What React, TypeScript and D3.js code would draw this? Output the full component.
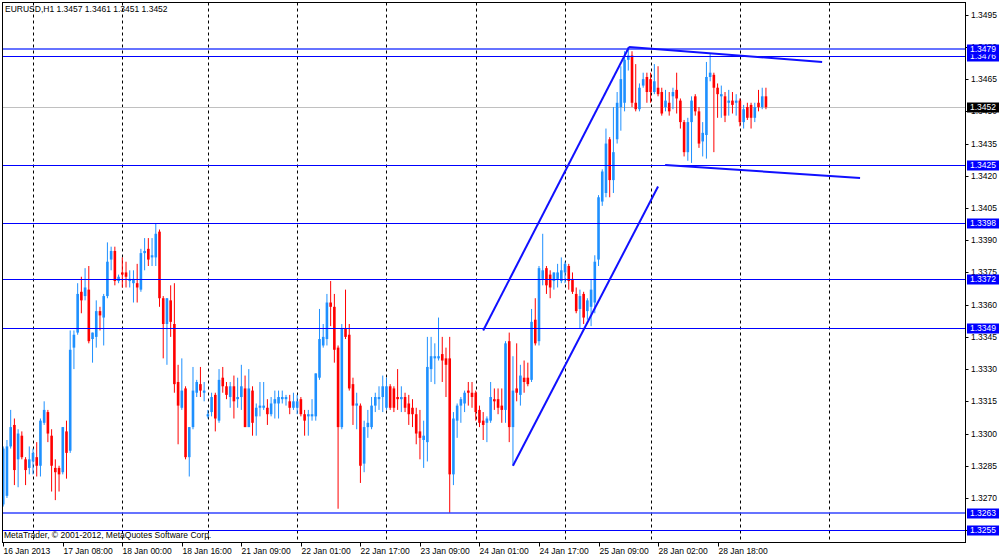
import * as d3 from 'd3';

const symbol = 'EURUSD,H1';
const lastQuote = ['1.3457', '1.3461', '1.3451', '1.3452'];
const copyright = 'MetaTrader, © 2001-2012, MetaQuotes Software Corp.';

// H1 bars [open, high, low, close], first bar 16 Jan 2013 16:00
const bars: [number, number, number, number][] = [
  [1.3267, 1.3294, 1.3266, 1.3293], [1.3271, 1.3297, 1.327, 1.3294], [1.3294, 1.3311, 1.3293, 1.3303],
  [1.3304, 1.3307, 1.3276, 1.3283], [1.3288, 1.3302, 1.3275, 1.33], [1.3299, 1.3301, 1.3288, 1.3289],
  [1.3288, 1.3289, 1.3276, 1.3283], [1.3284, 1.3294, 1.3281, 1.3288], [1.3287, 1.3293, 1.3281, 1.3291],
  [1.3289, 1.3296, 1.328, 1.3285], [1.3285, 1.3307, 1.328, 1.3306], [1.3305, 1.3315, 1.3304, 1.3311],
  [1.331, 1.3311, 1.3296, 1.33], [1.3299, 1.3302, 1.3273, 1.3285], [1.3284, 1.3288, 1.3269, 1.3282],
  [1.3284, 1.3285, 1.3273, 1.3281], [1.3282, 1.3303, 1.3281, 1.3303], [1.3301, 1.3306, 1.3279, 1.3291],
  [1.3292, 1.3348, 1.3291, 1.3339], [1.334, 1.3348, 1.333, 1.3346], [1.3347, 1.337, 1.3346, 1.3365],
  [1.3366, 1.3373, 1.3356, 1.3362], [1.3364, 1.3377, 1.3362, 1.3368], [1.3367, 1.3378, 1.3342, 1.3343],
  [1.3344, 1.3347, 1.3333, 1.3347], [1.3345, 1.3362, 1.334, 1.3357], [1.3357, 1.3359, 1.3348, 1.3355],
  [1.3354, 1.3365, 1.3341, 1.3364], [1.3364, 1.3389, 1.3363, 1.338], [1.3381, 1.3387, 1.3376, 1.3385],
  [1.3385, 1.3387, 1.3369, 1.3371], [1.3371, 1.3374, 1.337, 1.3373], [1.3375, 1.3382, 1.3368, 1.3374],
  [1.3375, 1.338, 1.3368, 1.3373], [1.3371, 1.3376, 1.3368, 1.3372], [1.337, 1.3376, 1.3361, 1.3372],
  [1.337, 1.3379, 1.3361, 1.3368], [1.3367, 1.3386, 1.3366, 1.3384], [1.3384, 1.3391, 1.3376, 1.3385],
  [1.3386, 1.3391, 1.3378, 1.3381], [1.3382, 1.3391, 1.3378, 1.3383], [1.3382, 1.3398, 1.3378, 1.3393],
  [1.3394, 1.3395, 1.3359, 1.3363], [1.3363, 1.3364, 1.3335, 1.3351], [1.3351, 1.3363, 1.3332, 1.3363],
  [1.3362, 1.3369, 1.3345, 1.3352], [1.3351, 1.337, 1.3319, 1.3323], [1.3324, 1.3332, 1.3295, 1.3313],
  [1.3312, 1.3335, 1.3311, 1.332], [1.3321, 1.3322, 1.3288, 1.3289], [1.3289, 1.3303, 1.328, 1.3303],
  [1.3303, 1.3331, 1.3302, 1.332], [1.3319, 1.3325, 1.3317, 1.3324], [1.3323, 1.3331, 1.3317, 1.332],
  [1.3319, 1.3324, 1.3315, 1.332], [1.3308, 1.3311, 1.3307, 1.3309], [1.331, 1.3319, 1.3308, 1.3317],
  [1.3318, 1.3319, 1.3301, 1.3307], [1.3306, 1.333, 1.3305, 1.3325], [1.3326, 1.3331, 1.3319, 1.3322],
  [1.3322, 1.3324, 1.3316, 1.3318], [1.3317, 1.3324, 1.3312, 1.3322], [1.3322, 1.3327, 1.3307, 1.3315],
  [1.3316, 1.3326, 1.3312, 1.3317], [1.3317, 1.3332, 1.3311, 1.3322], [1.3321, 1.3327, 1.3303, 1.3303],
  [1.3303, 1.333, 1.3303, 1.3321], [1.332, 1.3322, 1.3299, 1.3305], [1.3308, 1.3314, 1.3299, 1.3312],
  [1.3312, 1.3324, 1.3308, 1.3313], [1.3312, 1.3324, 1.3311, 1.3313], [1.3312, 1.3316, 1.3304, 1.3309],
  [1.3309, 1.3317, 1.3308, 1.3314], [1.3314, 1.332, 1.3307, 1.3316], [1.3314, 1.332, 1.3307, 1.3317],
  [1.3316, 1.332, 1.3314, 1.3317], [1.3316, 1.3318, 1.3313, 1.3317], [1.3315, 1.3318, 1.3309, 1.3312],
  [1.3312, 1.3319, 1.3311, 1.3315], [1.3312, 1.3318, 1.3309, 1.3315], [1.3316, 1.3317, 1.3308, 1.3309],
  [1.3309, 1.3311, 1.3299, 1.3306], [1.3308, 1.3311, 1.3299, 1.3309], [1.3308, 1.3316, 1.3306, 1.3309],
  [1.3308, 1.3328, 1.3306, 1.3328], [1.3326, 1.3358, 1.3325, 1.3344], [1.3341, 1.3351, 1.334, 1.3345],
  [1.3344, 1.3365, 1.3341, 1.3361], [1.3361, 1.3371, 1.335, 1.3359], [1.3359, 1.3365, 1.3333, 1.3339],
  [1.334, 1.3341, 1.3265, 1.3303], [1.3303, 1.3351, 1.3302, 1.3349], [1.3349, 1.3367, 1.3344, 1.3345],
  [1.3346, 1.3351, 1.332, 1.3321], [1.3323, 1.3326, 1.3304, 1.3313], [1.3313, 1.3319, 1.3302, 1.3314],
  [1.3313, 1.3314, 1.3277, 1.3285], [1.3286, 1.3306, 1.3282, 1.3303], [1.3303, 1.3311, 1.3298, 1.3305],
  [1.3303, 1.3317, 1.3302, 1.3313], [1.3313, 1.3319, 1.331, 1.3317], [1.3316, 1.3322, 1.3311, 1.3317],
  [1.3317, 1.3327, 1.331, 1.3322], [1.3312, 1.3326, 1.3311, 1.3322], [1.3322, 1.3323, 1.3311, 1.3312],
  [1.3321, 1.3322, 1.331, 1.3312], [1.3317, 1.333, 1.3311, 1.3316], [1.3316, 1.3322, 1.331, 1.3317],
  [1.3317, 1.3319, 1.331, 1.3312], [1.3314, 1.3318, 1.3304, 1.3309], [1.3312, 1.3316, 1.3303, 1.3309],
  [1.3309, 1.3312, 1.3295, 1.33], [1.3301, 1.3311, 1.3288, 1.3298], [1.3297, 1.3306, 1.3284, 1.3299],
  [1.3296, 1.3345, 1.3287, 1.3331], [1.333, 1.3345, 1.3324, 1.3336], [1.3335, 1.3342, 1.3323, 1.3336],
  [1.3335, 1.3354, 1.3334, 1.3336], [1.3337, 1.3345, 1.3324, 1.3334], [1.3335, 1.334, 1.3317, 1.3332],
  [1.3335, 1.3345, 1.3263, 1.3281], [1.3281, 1.331, 1.3276, 1.3307], [1.3306, 1.3314, 1.3298, 1.3313],
  [1.3313, 1.3317, 1.3305, 1.3316], [1.3314, 1.332, 1.331, 1.3319], [1.332, 1.3324, 1.3313, 1.3319],
  [1.3319, 1.3324, 1.3312, 1.3317], [1.3319, 1.332, 1.3306, 1.331], [1.3311, 1.3313, 1.3303, 1.3305],
  [1.3306, 1.331, 1.3297, 1.3304], [1.3305, 1.3308, 1.3296, 1.3307], [1.3306, 1.3324, 1.3305, 1.3317],
  [1.3316, 1.3321, 1.3311, 1.3315], [1.3316, 1.3321, 1.3309, 1.3312], [1.3313, 1.3321, 1.3305, 1.3311],
  [1.3311, 1.3343, 1.3305, 1.3342], [1.3343, 1.3347, 1.3296, 1.3303], [1.3303, 1.3336, 1.3285, 1.332],
  [1.3321, 1.3342, 1.3315, 1.3319], [1.3318, 1.3332, 1.3313, 1.3327], [1.3326, 1.3334, 1.3319, 1.3324],
  [1.3326, 1.3333, 1.3322, 1.3323], [1.3325, 1.3358, 1.3324, 1.3352], [1.3353, 1.3363, 1.3341, 1.3342],
  [1.3343, 1.3378, 1.3341, 1.3377], [1.3372, 1.3393, 1.3369, 1.3376], [1.3377, 1.3378, 1.3365, 1.3369],
  [1.3374, 1.3376, 1.3363, 1.3368], [1.3371, 1.3375, 1.3367, 1.3375], [1.3372, 1.3379, 1.3368, 1.3375],
  [1.3371, 1.3382, 1.337, 1.3376], [1.3375, 1.338, 1.337, 1.3379], [1.3378, 1.3379, 1.3367, 1.3371],
  [1.3372, 1.3375, 1.3365, 1.3366], [1.3365, 1.3368, 1.3356, 1.3357], [1.3358, 1.3367, 1.3349, 1.3364],
  [1.3365, 1.3366, 1.3351, 1.3354], [1.3357, 1.3363, 1.3353, 1.3362], [1.3359, 1.3372, 1.335, 1.3367],
  [1.3361, 1.3383, 1.3356, 1.338], [1.3381, 1.3411, 1.3378, 1.341], [1.3408, 1.3423, 1.3406, 1.3422],
  [1.3412, 1.3442, 1.341, 1.3435], [1.3437, 1.3438, 1.341, 1.3418], [1.3418, 1.3452, 1.3412, 1.3431],
  [1.3437, 1.3459, 1.3435, 1.3454], [1.3452, 1.3471, 1.3441, 1.3465], [1.3454, 1.3478, 1.345, 1.3474],
  [1.3474, 1.348, 1.3469, 1.3476], [1.3476, 1.3478, 1.3452, 1.3454], [1.3454, 1.3472, 1.345, 1.3451],
  [1.3451, 1.3463, 1.345, 1.3461], [1.3462, 1.3468, 1.3461, 1.3465], [1.3466, 1.3468, 1.3454, 1.3459],
  [1.3465, 1.3468, 1.3454, 1.3459], [1.3459, 1.3472, 1.3458, 1.3464], [1.3461, 1.3471, 1.3457, 1.3458],
  [1.3459, 1.3461, 1.3448, 1.3449], [1.3452, 1.346, 1.345, 1.3455], [1.3454, 1.3459, 1.3448, 1.345],
  [1.3457, 1.3461, 1.3451, 1.3459], [1.346, 1.3468, 1.3449, 1.3456], [1.3455, 1.3456, 1.3442, 1.3445],
  [1.3445, 1.3446, 1.3429, 1.3431], [1.3431, 1.3447, 1.3427, 1.3445], [1.3445, 1.3457, 1.3426, 1.3455],
  [1.3457, 1.3458, 1.3448, 1.345], [1.345, 1.3452, 1.3433, 1.3435], [1.3436, 1.3445, 1.3429, 1.344],
  [1.3439, 1.3473, 1.3428, 1.3466], [1.3466, 1.3477, 1.3464, 1.3468], [1.3467, 1.3468, 1.3431, 1.3461],
  [1.3461, 1.3463, 1.3447, 1.3458], [1.3457, 1.3462, 1.3447, 1.3458], [1.3457, 1.3459, 1.3445, 1.3448],
  [1.3454, 1.346, 1.3448, 1.3455], [1.3455, 1.3459, 1.3449, 1.3453], [1.3454, 1.3458, 1.3448, 1.3455],
  [1.3455, 1.3456, 1.3443, 1.3445], [1.3445, 1.3453, 1.3442, 1.3451], [1.3452, 1.3454, 1.3446, 1.3447],
  [1.3453, 1.3454, 1.3442, 1.3447], [1.3447, 1.3454, 1.3445, 1.3452], [1.3454, 1.346, 1.345, 1.3452],
  [1.3452, 1.3461, 1.3451, 1.3457], [1.3457, 1.3461, 1.3451, 1.3452],
];

const priceTicks = [
  1.3495, 1.348, 1.3465, 1.345, 1.3435, 1.342, 1.3405, 1.339, 1.3375,
  1.336, 1.3345, 1.333, 1.3315, 1.33, 1.3285, 1.327, 1.3255,
];
const levels = [1.3255, 1.3263, 1.3349, 1.3372, 1.3398, 1.3425, 1.3476, 1.3479];
const softLevels = [1.3263, 1.3479];
const bid = 1.3452;

// [barIndex, price] end points
const trendLines: [[number, number], [number, number]][] = [
  [[129, 1.3348], [168.2, 1.348]],
  [[137, 1.3285], [176, 1.3415]],
  [[168.2, 1.348], [220.1, 1.3473]],
  [[177.9, 1.3425], [230.3, 1.3419]],
];

const daySeparators = [8, 32, 55, 79, 103, 127, 151, 174, 198, 222];
const timeLabels: [number, string][] = [
  [0, '16 Jan 2013'], [16, '17 Jan 08:00'], [32, '18 Jan 00:00'], [48, '18 Jan 16:00'],
  [64, '21 Jan 09:00'], [80, '22 Jan 01:00'], [96, '22 Jan 17:00'], [112, '23 Jan 09:00'],
  [128, '24 Jan 01:00'], [144, '24 Jan 17:00'], [160, '25 Jan 09:00'], [176, '28 Jan 02:00'],
  [192, '28 Jan 18:00'],
];

const W = 1000;
const H = 557;
const frame = { left: 2.5, top: 2.5, right: 965.5, bottom: 542.5 };
const bull = '#1e90ff';
const bear = '#ff0000';
const font = '"Liberation Sans", Arial, sans-serif';

// snap to the pixel grid so 1px lines stay crisp
const px = (v: number) => Math.round(v) + 0.5;

export default function App() {
  const x = d3.scaleLinear([0, 258.5], [3.24, 965]);
  const y = d3.scaleLinear([1.3255, 1.3495], [530.2, 14.7]);
  const bodyW = 2.6;
  const fmt = d3.format('.4f');

  return (
    <svg
      width={W}
      height={H}
      style={{ position: 'absolute', left: 0, top: 0, background: '#fff' }}
      fontFamily={font}
    >
      <defs>
        <clipPath id="plot">
          <rect x={frame.left} y={frame.top} width={frame.right - frame.left} height={frame.bottom - frame.top} />
        </clipPath>
      </defs>

      <g clipPath="url(#plot)">
        {daySeparators.map((b) => (
          <line
            key={b}
            x1={px(x(b))}
            x2={px(x(b))}
            y1={frame.top}
            y2={frame.bottom}
            stroke="#000"
            strokeDasharray="3,3"
          />
        ))}

        <line x1={frame.left} x2={frame.right} y1={px(y(bid))} y2={px(y(bid))} stroke="#c0c0c0" />

        {bars.map(([o, h, l, c], i) => {
          const col = c >= o ? bull : bear;
          const top = y(Math.max(o, c));
          const bh = Math.max(1, y(Math.min(o, c)) - top);
          return (
            <g key={i}>
              <line x1={x(i)} x2={x(i)} y1={y(h)} y2={y(l)} stroke={col} strokeWidth={1} />
              <rect x={x(i) - bodyW / 2} y={top} width={bodyW} height={bh} fill={col} />
            </g>
          );
        })}

        {levels.map((p) => {
          const soft = softLevels.includes(p);
          return (
            <line
              key={p}
              x1={frame.left}
              x2={frame.right}
              y1={soft ? y(p) : px(y(p))}
              y2={soft ? y(p) : px(y(p))}
              stroke={soft ? '#3345ff' : '#0000ff'}
              strokeWidth={soft ? 1.6 : 1}
            />
          );
        })}

        {trendLines.map(([a, b], i) => (
          <line
            key={i}
            x1={x(a[0])}
            y1={y(a[1])}
            x2={x(b[0])}
            y2={y(b[1])}
            stroke="#1010ff"
            strokeWidth={2}
          />
        ))}
      </g>

      <rect
        x={frame.left}
        y={frame.top}
        width={frame.right - frame.left}
        height={frame.bottom - frame.top}
        fill="none"
        stroke="#000"
      />

      <text x={5} y={12} fontSize={8.5} fill="#000">
        {symbol}
        {'  '}
        {lastQuote.join(' ')}
      </text>
      <text x={4} y={537.5} fontSize={8.5} fill="#000">
        {copyright}
      </text>

      {priceTicks.map((p) => (
        <g key={p} transform={`translate(0,${px(y(p))})`}>
          <line x1={frame.right} x2={frame.right + 3} stroke="#000" />
          <text x={971} dy="0.35em" fontSize={8.5} fill="#000">
            {fmt(p)}
          </text>
        </g>
      ))}

      {levels.map((p) => (
        <g key={p} transform={`translate(0,${px(y(p))})`}>
          <rect x={967} y={-5} width={32} height={10} fill="#0000ff" />
          <text x={970} dy="0.35em" fontSize={8.5} fill="#fff">
            {fmt(p)}
          </text>
        </g>
      ))}
      <g transform={`translate(0,${px(y(bid))})`}>
        <rect x={967} y={-5} width={32} height={10} fill="#000" />
        <text x={970} dy="0.35em" fontSize={8.5} fill="#fff">
          {fmt(bid)}
        </text>
      </g>

      {timeLabels.map(([b, t]) => (
        <g key={b} transform={`translate(${px(x(b))},0)`}>
          <line y1={frame.bottom} y2={frame.bottom + 4} stroke="#000" />
          <text x={0} y={554} fontSize={8.5} fill="#000">
            {t}
          </text>
        </g>
      ))}
    </svg>
  );
}
